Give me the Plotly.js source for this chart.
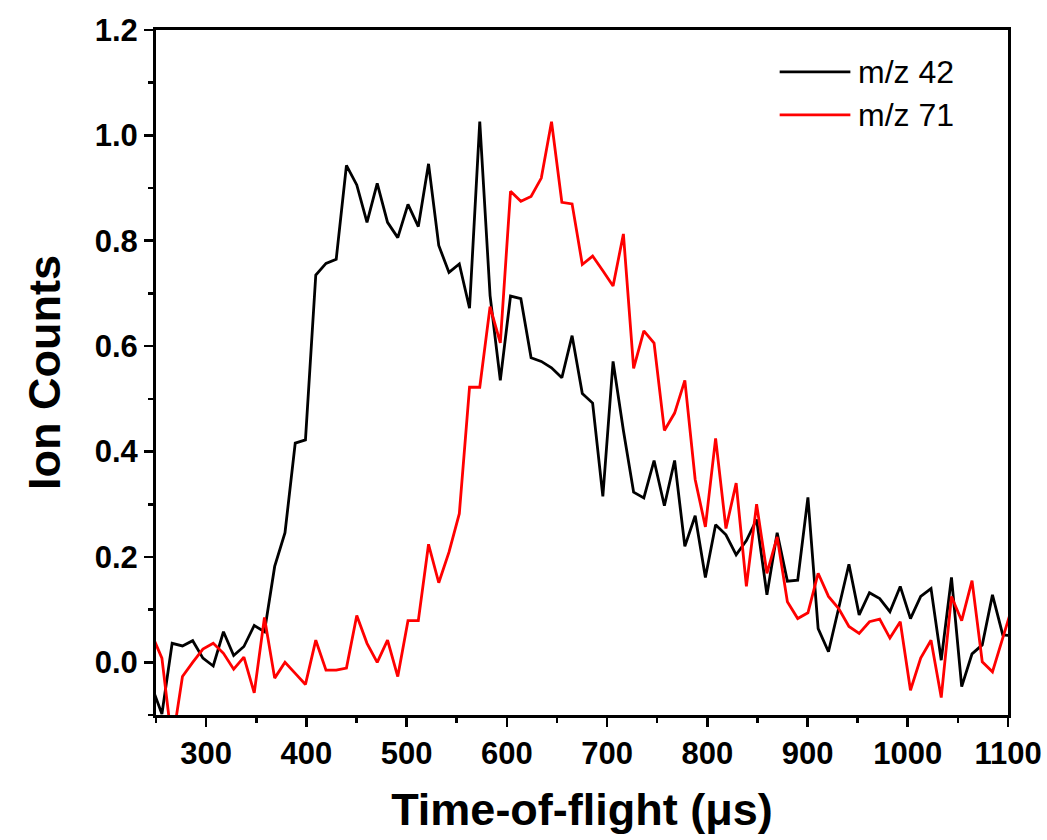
<!DOCTYPE html>
<html>
<head>
<meta charset="utf-8">
<script src="https://cdn.plot.ly/plotly-3.0.1.min.js"></script>
<style>html,body{margin:0;padding:0;background:#fff;}</style>
</head>
<body>
<div id="chart" style="width:1047px;height:840px"></div>
<script>
// Time-of-flight sample positions (µs)
const time = [245.7, 255.9, 266.1, 276.4, 286.6, 296.8, 307.1, 317.3, 327.5, 337.7,
  348.0, 358.2, 368.4, 378.7, 388.9, 399.1, 409.4, 419.6, 429.8, 440.0,
  450.3, 460.5, 470.7, 481.0, 491.2, 501.4, 511.7, 521.9, 532.1, 542.3,
  552.6, 562.8, 573.0, 583.3, 593.5, 603.7, 614.0, 624.2, 634.4, 644.6,
  654.9, 665.1, 675.3, 685.6, 695.8, 706.0, 716.3, 726.5, 736.7, 746.9,
  757.2, 767.4, 777.6, 787.9, 798.1, 808.3, 818.6, 828.8, 839.0, 849.2,
  859.5, 869.7, 879.9, 890.2, 900.4, 910.6, 920.9, 931.1, 941.3, 951.5,
  961.8, 972.0, 982.2, 992.5, 1002.7, 1012.9, 1023.2, 1033.4, 1043.6, 1053.8,
  1064.1, 1074.3, 1084.5, 1094.8, 1105.0];

// Ion counts, m/z 42 (black)
const mz42 = [-0.046, -0.098, 0.036, 0.031, 0.041, 0.008, -0.007, 0.058, 0.013, 0.030,
  0.070, 0.058, 0.182, 0.246, 0.416, 0.422, 0.735, 0.757, 0.765, 0.943,
  0.906, 0.835, 0.909, 0.835, 0.806, 0.869, 0.827, 0.946, 0.791, 0.740,
  0.756, 0.672, 1.026, 0.696, 0.535, 0.695, 0.690, 0.578, 0.571, 0.559,
  0.540, 0.620, 0.510, 0.492, 0.315, 0.571, 0.440, 0.323, 0.312, 0.383,
  0.297, 0.383, 0.220, 0.278, 0.161, 0.261, 0.242, 0.204, 0.231, 0.271,
  0.128, 0.246, 0.154, 0.156, 0.313, 0.064, 0.020, 0.102, 0.186, 0.090,
  0.132, 0.121, 0.096, 0.144, 0.083, 0.125, 0.140, 0.004, 0.161, -0.046,
  0.016, 0.033, 0.128, 0.052, 0.050];

// Ion counts, m/z 71 (red)
const mz71 = [0.053, 0.008, -0.155, -0.027, 0.000, 0.025, 0.036, 0.017, -0.013, 0.010,
  -0.058, 0.085, -0.030, 0.000, -0.021, -0.042, 0.042, -0.015, -0.015, -0.011,
  0.089, 0.036, 0.000, 0.042, -0.027, 0.079, 0.079, 0.224, 0.151, 0.209,
  0.282, 0.522, 0.522, 0.675, 0.606, 0.894, 0.875, 0.884, 0.919, 1.026,
  0.873, 0.870, 0.755, 0.771, 0.743, 0.714, 0.813, 0.558, 0.629, 0.606,
  0.440, 0.473, 0.535, 0.347, 0.257, 0.425, 0.254, 0.340, 0.144, 0.300,
  0.169, 0.238, 0.115, 0.083, 0.094, 0.169, 0.125, 0.102, 0.068, 0.055,
  0.077, 0.082, 0.046, 0.077, -0.053, 0.008, 0.042, -0.067, 0.125, 0.079,
  0.155, 0.001, -0.018, 0.049, 0.110];

const seriesNames = ['m/z 42', 'm/z 71'];
const seriesColors = ['#000000', '#ff0000'];
const xTitle = 'Time-of-flight (\u03bcs)';
const yTitle = 'Ion Counts';

const FONT = 'Liberation Sans, Arial, Helvetica, sans-serif';

const traces = [mz42, mz71].map((ys, i) => ({
  type: 'scatter',
  mode: 'lines',
  x: time,
  y: ys,
  name: seriesNames[i],
  line: {color: seriesColors[i], width: 2.8},
  showlegend: false,
  hoverinfo: 'x+y'
}));

// legend drawn in paper coordinates
const legendY = [0.939, 0.876];
const shapes = legendY.map((y, i) => ({
  type: 'line', xref: 'paper', yref: 'paper',
  x0: 0.732, x1: 0.815, y0: y, y1: y,
  line: {color: seriesColors[i], width: 2.8}
}));
const annotations = legendY.map((y, i) => ({
  xref: 'paper', yref: 'paper', x: 0.822, y: y,
  xanchor: 'left', yanchor: 'middle', showarrow: false,
  text: seriesNames[i],
  font: {family: FONT, size: 32, color: '#000'}
}));

const axisCommon = {
  showline: true, linecolor: '#000', linewidth: 3, mirror: true,
  showgrid: false, zeroline: false,
  ticks: 'outside', ticklen: 9, tickwidth: 2.6, tickcolor: '#000',
  tickfont: {family: FONT, size: 31, color: '#000', weight: 'bold'},
};

const layout = {
  width: 1047, height: 840,
  margin: {l: 156, r: 39, t: 30, b: 125, pad: 0},
  paper_bgcolor: '#fff', plot_bgcolor: '#fff',
  showlegend: false,
  xaxis: Object.assign({}, axisCommon, {
    range: [250, 1100], autorange: false,
    tick0: 0, dtick: 100,
    minor: {dtick: 50, tick0: 0, ticks: 'outside', ticklen: 5, tickwidth: 2.6, tickcolor: '#000', showgrid: false},
    title: {text: xTitle, font: {family: FONT, size: 45, color: '#000', weight: 'bold'}, standoff: 24}
  }),
  yaxis: Object.assign({}, axisCommon, {
    range: [-0.1, 1.2], autorange: false,
    tick0: 0, dtick: 0.2, tickformat: '.1f',
    minor: {dtick: 0.1, tick0: 0, ticks: 'outside', ticklen: 5, tickwidth: 2.6, tickcolor: '#000', showgrid: false},
    title: {text: yTitle, font: {family: FONT, size: 45, color: '#000', weight: 'bold'}, standoff: 20}
  }),
  shapes: shapes,
  annotations: annotations
};

Plotly.newPlot('chart', traces, layout, {displayModeBar: false, staticPlot: true});
</script>
</body>
</html>
